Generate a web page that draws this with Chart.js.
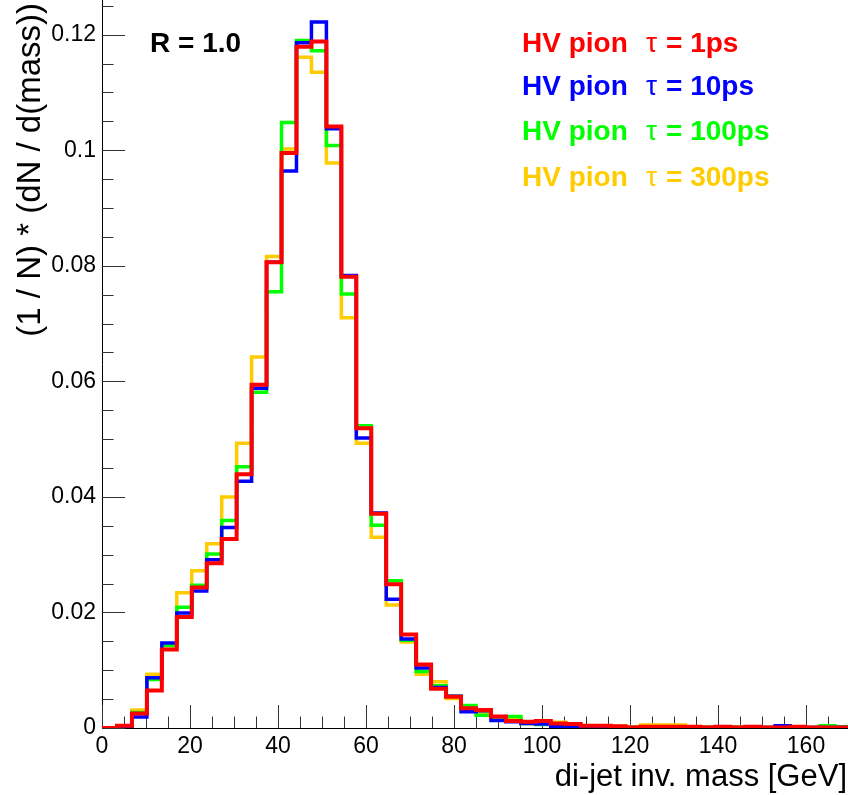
<!DOCTYPE html>
<html>
<head>
<meta charset="utf-8">
<script src="https://cdn.jsdelivr.net/npm/chart.js@4.4.1/dist/chart.umd.min.js"></script>
<style>
  html, body { margin: 0; padding: 0; background: #fff; overflow: hidden; }
  #wrap { width: 848px; height: 795px; overflow: hidden; }
</style>
</head>
<body>
<div id="wrap"><canvas id="massChart" width="852" height="795"></canvas></div>
<script>
// histogram binning: 50 bins between 0 and 170 GeV
var nBins = 50;
var xMin = 0;
var xMax = 170;
var binEdges = [];
for (var i = 0; i <= nBins; i++) {
  binEdges.push(+(xMin + i * (xMax - xMin) / nBins).toFixed(2));
}

var xTicks = [0, 20, 40, 60, 80, 100, 120, 140, 160];
var yTicks = [0, 0.02, 0.04, 0.06, 0.08, 0.1, 0.12];

var seriesNames = ['HV pion', 'HV pion', 'HV pion', 'HV pion'];
var seriesTaus = ['1ps', '10ps', '100ps', '300ps'];
var seriesColors = ['#ff0000', '#0000ff', '#00ff00', '#ffcc00'];

// normalised counts per bin
var tau1ps = [
  0.0000, 0.0004, 0.0025, 0.0065, 0.0136, 0.0192, 0.0243, 0.0285, 0.0327, 0.0439,
  0.0594, 0.0806, 0.0995, 0.1179, 0.1188, 0.1041, 0.0781, 0.0519, 0.0371, 0.0249,
  0.0162, 0.0110, 0.0068, 0.0054, 0.0034, 0.0031, 0.0020, 0.0012, 0.0011, 0.0012,
  0.0008, 0.0007, 0.0004, 0.0004, 0.0003, 0.0001, 0.0002, 0.0002, 0.0002, 0.0002,
  0.0001, 0.0002, 0.0001, 0.0002, 0.0001, 0.0001, 0.0002, 0.0001, 0.0001, 0.0001
];
var tau10ps = [
  0.0000, 0.0001, 0.0019, 0.0087, 0.0147, 0.0199, 0.0237, 0.0291, 0.0347, 0.0427,
  0.0588, 0.0806, 0.0964, 0.1186, 0.1222, 0.1037, 0.0783, 0.0502, 0.0372, 0.0223,
  0.0154, 0.0104, 0.0070, 0.0055, 0.0028, 0.0030, 0.0013, 0.0011, 0.0008, 0.0007,
  0.0002, 0.0002, 0.0002, 0.0002, 0.0001, 0.0001, 0.0001, 0.0001, 0.0001, 0.0000,
  0.0001, 0.0001, 0.0001, 0.0001, 0.0001, 0.0004, 0.0001, 0.0001, 0.0001, 0.0001
];
var tau100ps = [
  0.0000, 0.0000, 0.0027, 0.0084, 0.0143, 0.0209, 0.0247, 0.0301, 0.0359, 0.0452,
  0.0581, 0.0755, 0.1048, 0.1190, 0.1172, 0.1008, 0.0751, 0.0523, 0.0351, 0.0255,
  0.0152, 0.0098, 0.0073, 0.0055, 0.0039, 0.0022, 0.0019, 0.0020, 0.0008, 0.0006,
  0.0000, 0.0000, 0.0002, 0.0002, 0.0002, 0.0001, 0.0002, 0.0002, 0.0001, 0.0000,
  0.0001, 0.0001, 0.0001, 0.0001, 0.0001, 0.0001, 0.0001, 0.0001, 0.0004, 0.0002
];
var tau300ps = [
  0.0000, 0.0003, 0.0031, 0.0093, 0.0143, 0.0234, 0.0272, 0.0319, 0.0400, 0.0493,
  0.0642, 0.0816, 0.1002, 0.1161, 0.1135, 0.0978, 0.0710, 0.0493, 0.0330, 0.0213,
  0.0149, 0.0093, 0.0080, 0.0051, 0.0032, 0.0027, 0.0017, 0.0017, 0.0008, 0.0008,
  0.0010, 0.0005, 0.0003, 0.0003, 0.0003, 0.0002, 0.0005, 0.0005, 0.0005, 0.0002,
  0.0002, 0.0001, 0.0002, 0.0002, 0.0001, 0.0001, 0.0001, 0.0001, 0.0001, 0.0001
];
var allSeries = [tau1ps, tau10ps, tau100ps, tau300ps];

// one point per bin edge, the last edge repeats the last bin (stepped line = histogram)
function toSteps(values) {
  return binEdges.map(function (edge, i) {
    return { x: edge, y: values[Math.min(i, values.length - 1)] };
  });
}

var fontName = "'Liberation Sans', Arial, sans-serif";

// ROOT-like decorations: inward ticks, axis titles, labels
var rootDecor = {
  id: 'rootDecor',
  beforeDatasetsDraw: function (chart) {
    var ctx = chart.ctx;
    var xs = chart.scales.x;
    var ys = chart.scales.y;
    var area = chart.chartArea;
    ctx.save();
    ctx.strokeStyle = '#333';
    ctx.lineWidth = 1;
    ctx.beginPath();
    for (var k = 0; k <= 34; k++) {
      var px = Math.round(xs.getPixelForValue(k * 5)) + 0.5;
      var len = (k % 4 === 0) ? 23 : 11.5;
      ctx.moveTo(px, area.bottom);
      ctx.lineTo(px, area.bottom - len);
    }
    for (var j = 0; j <= 25; j++) {
      var py = Math.round(ys.getPixelForValue(j * 0.005)) + 0.5;
      var ylen = (j % 4 === 0) ? 23 : 11.5;
      ctx.moveTo(area.left, py);
      ctx.lineTo(area.left + ylen, py);
    }
    ctx.stroke();
    ctx.restore();
  },
  afterDraw: function (chart) {
    var ctx = chart.ctx;
    ctx.save();
    ctx.fillStyle = '#000';

    // x axis title
    ctx.font = '31px ' + fontName;
    ctx.textAlign = 'right';
    ctx.textBaseline = 'alphabetic';
    ctx.fillText('di-jet inv. mass [GeV]', 847, 786);

    // y axis title
    ctx.save();
    ctx.translate(31, 3);
    ctx.rotate(-Math.PI / 2);
    ctx.font = '33px ' + fontName;
    ctx.textAlign = 'right';
    ctx.textBaseline = 'middle';
    ctx.fillText('(1 / N) * (dN / d(mass))', 0, 0);
    ctx.restore();

    // radius parameter
    ctx.font = 'bold 28px ' + fontName;
    ctx.textAlign = 'left';
    ctx.fillText('R = 1.0', 150, 52);

    // legend, plain coloured text (tau in normal weight like ROOT's symbol font)
    var baselines = [52, 95, 140, 186];
    for (var s = 0; s < seriesNames.length; s++) {
      ctx.fillStyle = seriesColors[s];
      ctx.font = 'bold 28px ' + fontName;
      ctx.fillText(seriesNames[s], 522, baselines[s]);
      ctx.font = '28px ' + fontName;
      ctx.fillText('\u03c4', 646, baselines[s]);
      ctx.font = 'bold 28px ' + fontName;
      ctx.fillText('= ' + seriesTaus[s], 666, baselines[s]);
    }
    ctx.restore();
  }
};

var ctx = document.getElementById('massChart');

var massChart = new Chart(ctx, {
  type: 'line',
  data: {
    datasets: allSeries.map(function (values, i) {
      return {
        label: seriesNames[i] + ' tau = ' + seriesTaus[i],
        data: toSteps(values),
        stepped: 'before',
        borderColor: seriesColors[i],
        borderWidth: i === 0 ? 4 : 3.5,
        borderJoinStyle: 'miter',
        pointRadius: 0,
        fill: false,
        tension: 0
      };
    })
  },
  options: {
    responsive: false,
    animation: false,
    events: [],
    layout: { autoPadding: false, padding: { left: 0, right: 2, top: 0, bottom: 0 } },
    plugins: {
      legend: { display: false },
      tooltip: { enabled: false }
    },
    scales: {
      x: {
        type: 'linear',
        min: xMin,
        max: xMax,
        afterBuildTicks: function (scale) {
          scale.ticks = xTicks.map(function (v) { return { value: v }; });
        },
        afterFit: function (scale) {
          scale.height = 67;
          scale.paddingLeft = 0;
          scale.paddingRight = 0;
        },
        grid: { display: false, drawTicks: false },
        border: { display: true, color: '#000', width: 1 },
        ticks: {
          padding: 5,
          color: '#000',
          maxRotation: 0,
          font: { family: fontName, size: 23 }
        }
      },
      y: {
        type: 'linear',
        min: 0,
        max: 0.126,
        afterBuildTicks: function (scale) {
          scale.ticks = yTicks.map(function (v) { return { value: v }; });
        },
        afterFit: function (scale) {
          scale.width = 102;
          scale.paddingTop = 0;
          scale.paddingBottom = 0;
        },
        grid: { display: false, drawTicks: false },
        border: { display: true, color: '#000', width: 1 },
        ticks: {
          padding: 6,
          color: '#000',
          font: { family: fontName, size: 23 },
          callback: function (v) { return String(+v.toFixed(3)); }
        }
      }
    }
  },
  plugins: [rootDecor]
});
</script>
</body>
</html>
